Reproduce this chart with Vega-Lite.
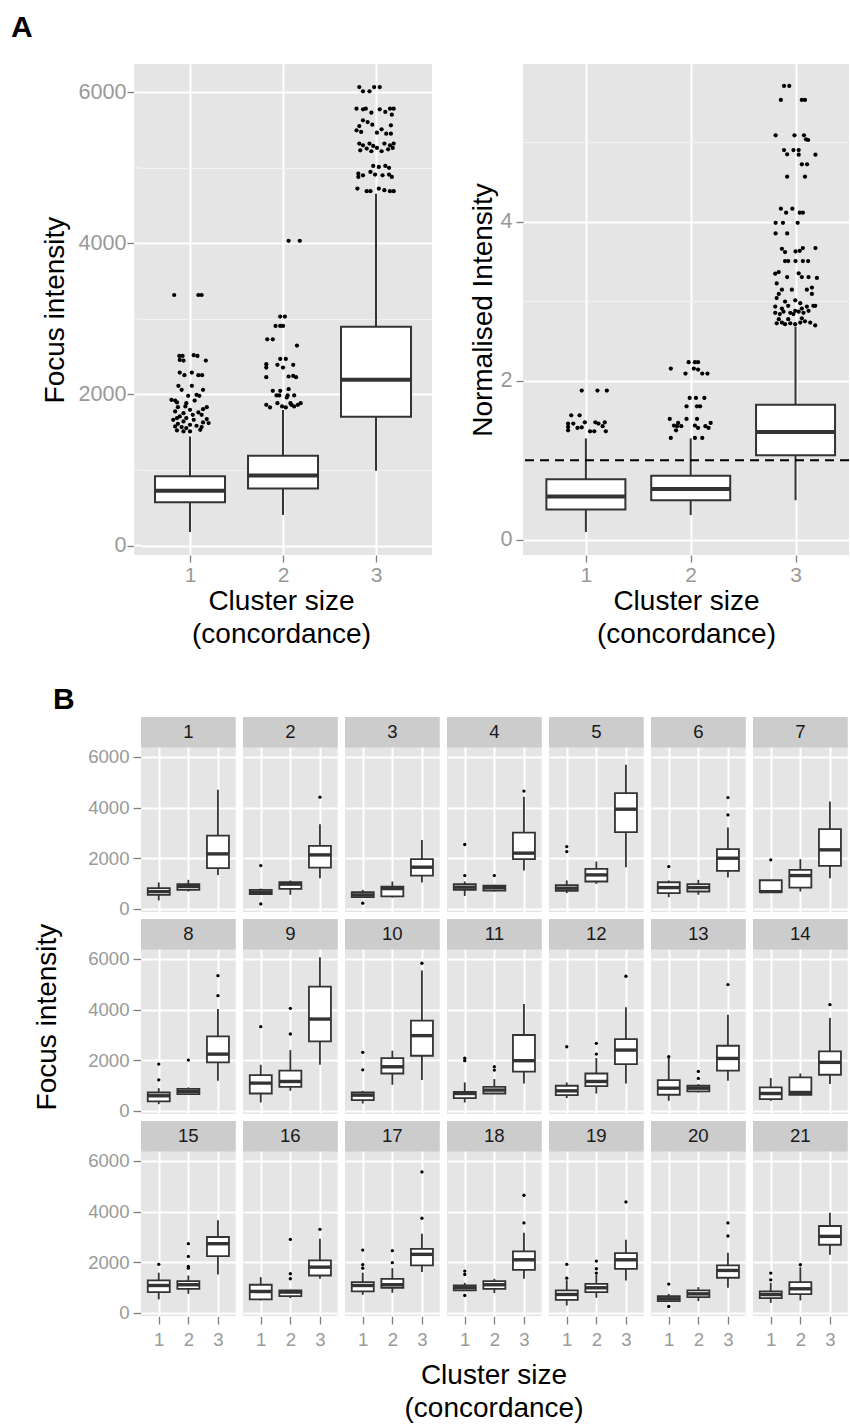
{
"$schema": "https://vega.github.io/schema/vega-lite/v6.json",
"padding": {"left": 10, "top": 13, "right": 0, "bottom": 0},
"title": {"text": "A", "anchor": "start", "fontSize": 30, "fontWeight": "bold", "color": "black", "dx": -23, "offset": 21},
"config": {
  "font": "Liberation Sans",
  "view": {"fill": "#E5E5E5", "stroke": null},
  "scale": {"continuousPadding": 0},
  "axis": {"domain": false, "labelColor": "#999999", "tickColor": "#7F7F7F", "titleColor": "black", "titleFontWeight": "normal", "titleFontSize": 28, "gridColor": "white", "gridWidth": 2, "tickWidth": 1.3, "labelFlush": false, "labelOverlap": false}
},
"datasets": {
  "aLB": [
    {"cl":1,"lo":180,"q1":572,"md":727,"q3":917,"hi":1444},
    {"cl":2,"lo":405,"q1":755,"md":928,"q3":1189,"hi":1795},
    {"cl":3,"lo":989,"q1":1706,"md":2195,"q3":2896,"hi":4658}
  ],
  "aLP": [
    {"x":0.83,"v":3317},{"x":1.09,"v":3317},{"x":1.125,"v":3317},{"x":0.885,"v":2511},{"x":0.92,"v":2511},{"x":0.89,"v":2458},{"x":0.93,"v":2449},{"x":1.04,"v":2520},{"x":1.08,"v":2511},{"x":1.17,"v":2449},
    {"x":0.89,"v":2290},{"x":0.94,"v":2255},{"x":1.02,"v":2290},{"x":1.09,"v":2255},{"x":1.13,"v":2255},{"x":0.875,"v":2114},{"x":0.91,"v":2061},{"x":1.02,"v":2114},{"x":1.14,"v":2061},{"x":0.98,"v":1982},
    {"x":1.07,"v":1995},{"x":1.10,"v":1982},{"x":0.80,"v":1929},{"x":0.84,"v":1920},{"x":0.86,"v":1894},{"x":1.05,"v":1920},{"x":0.96,"v":1885},{"x":1.18,"v":1832},{"x":1.14,"v":1806},{"x":0.95,"v":1841},
    {"x":0.87,"v":1832},{"x":1.0,"v":1797},{"x":0.84,"v":1775},{"x":1.09,"v":1762},{"x":0.93,"v":1753},{"x":1.03,"v":1731},{"x":1.125,"v":1731},{"x":0.89,"v":1709},{"x":0.86,"v":1687},{"x":0.96,"v":1687},
    {"x":1.18,"v":1674},{"x":0.82,"v":1665},{"x":1.04,"v":1665},{"x":0.93,"v":1643},{"x":1.14,"v":1630},{"x":1.20,"v":1621},{"x":0.87,"v":1612},{"x":1.0,"v":1599},{"x":1.07,"v":1586},{"x":0.84,"v":1577},
    {"x":0.91,"v":1568},{"x":1.125,"v":1568},{"x":0.96,"v":1555},{"x":0.86,"v":1524},{"x":0.93,"v":1511},{"x":1.0,"v":1511},{"x":1.11,"v":1533},
    {"x":2.06,"v":4035},{"x":2.18,"v":4035},{"x":1.97,"v":3031},{"x":2.02,"v":3031},{"x":1.92,"v":2907},{"x":1.97,"v":2907},{"x":2.0,"v":2907},{"x":1.83,"v":2731},{"x":1.89,"v":2731},{"x":2.15,"v":2647},
    {"x":1.97,"v":2471},{"x":2.03,"v":2471},{"x":1.82,"v":2401},{"x":1.82,"v":2357},{"x":1.94,"v":2392},{"x":2.0,"v":2357},{"x":2.11,"v":2392},{"x":1.82,"v":2229},{"x":2.06,"v":2238},{"x":2.11,"v":2246},
    {"x":2.14,"v":2229},{"x":1.89,"v":2048},{"x":1.97,"v":2048},{"x":2.06,"v":2070},{"x":1.93,"v":1987},{"x":1.96,"v":1987},{"x":2.04,"v":1960},{"x":2.12,"v":1987},{"x":1.82,"v":1863},{"x":1.86,"v":1828},
    {"x":1.94,"v":1885},{"x":1.99,"v":1841},{"x":2.03,"v":1828},{"x":2.09,"v":1863},{"x":2.12,"v":1841},{"x":2.16,"v":1863},{"x":2.19,"v":1885},{"x":2.08,"v":1885},{"x":2.05,"v":1987},
    {"x":2.82,"v":6070},{"x":2.86,"v":6013},{"x":2.93,"v":6013},{"x":2.98,"v":6070},{"x":3.04,"v":6070},{"x":2.79,"v":5784},{"x":2.86,"v":5775},{"x":2.89,"v":5784},{"x":2.95,"v":5731},{"x":3.04,"v":5775},
    {"x":3.10,"v":5740},{"x":3.15,"v":5784},{"x":3.19,"v":5784},{"x":3.17,"v":5704},{"x":2.86,"v":5629},{"x":2.91,"v":5607},{"x":2.96,"v":5572},{"x":2.82,"v":5554},{"x":2.79,"v":5497},{"x":2.84,"v":5475},
    {"x":3.01,"v":5466},{"x":3.06,"v":5510},{"x":3.11,"v":5453},{"x":3.16,"v":5563},{"x":3.16,"v":5453},{"x":2.82,"v":5321},{"x":2.86,"v":5299},{"x":2.93,"v":5321},{"x":2.97,"v":5290},{"x":3.01,"v":5264},
    {"x":3.09,"v":5321},{"x":3.15,"v":5299},{"x":3.19,"v":5321},{"x":2.83,"v":5233},{"x":2.90,"v":5255},{"x":2.95,"v":5220},{"x":3.06,"v":5220},{"x":3.13,"v":5246},{"x":3.18,"v":5264},{"x":2.97,"v":5026},
    {"x":3.03,"v":5013},{"x":3.10,"v":5026},{"x":3.14,"v":5000},{"x":2.81,"v":4924},{"x":2.86,"v":4902},{"x":2.94,"v":4946},{"x":2.99,"v":4911},{"x":3.07,"v":4902},{"x":3.14,"v":4911},{"x":3.17,"v":4880},
    {"x":2.81,"v":4880},{"x":2.80,"v":4726},{"x":2.90,"v":4691},{"x":2.94,"v":4691},{"x":3.03,"v":4726},{"x":3.09,"v":4704},{"x":3.15,"v":4691},{"x":3.19,"v":4691}
  ],
  "aRB": [
    {"cl":1,"lo":0.10,"q1":0.381,"md":0.546,"q3":0.762,"hi":1.275},
    {"cl":2,"lo":0.312,"q1":0.498,"md":0.640,"q3":0.805,"hi":1.275},
    {"cl":3,"lo":0.498,"q1":1.064,"md":1.355,"q3":1.699,"hi":2.68}
  ],
  "aRP": [
    {"x":0.96,"v":1.876},{"x":1.11,"v":1.876},{"x":1.20,"v":1.876},{"x":0.86,"v":1.566},{"x":0.94,"v":1.566},{"x":0.83,"v":1.461},{"x":0.88,"v":1.461},{"x":0.99,"v":1.478},{"x":1.09,"v":1.478},{"x":1.18,"v":1.478},
    {"x":0.83,"v":1.377},{"x":0.92,"v":1.407},{"x":0.96,"v":1.415},{"x":1.04,"v":1.365},{"x":1.08,"v":1.365},{"x":1.12,"v":1.461},{"x":1.19,"v":1.365},{"x":0.83,"v":1.42},{"x":1.16,"v":1.428},
    {"x":1.81,"v":2.153},{"x":1.95,"v":2.090},{"x":1.98,"v":2.233},{"x":2.04,"v":2.233},{"x":2.07,"v":2.233},{"x":2.03,"v":2.153},{"x":2.07,"v":2.140},{"x":2.11,"v":2.090},{"x":2.16,"v":2.090},{"x":1.99,"v":1.784},
    {"x":2.05,"v":1.784},{"x":2.13,"v":1.784},{"x":1.96,"v":1.679},{"x":2.06,"v":1.679},{"x":2.09,"v":1.679},{"x":1.80,"v":1.520},{"x":1.84,"v":1.436},{"x":1.87,"v":1.428},{"x":1.88,"v":1.470},{"x":1.91,"v":1.428},
    {"x":1.96,"v":1.520},{"x":1.86,"v":1.377},{"x":2.04,"v":1.436},{"x":2.06,"v":1.520},{"x":2.07,"v":1.407},{"x":2.14,"v":1.428},{"x":2.19,"v":1.470},{"x":2.17,"v":1.407},{"x":1.81,"v":1.281},{"x":2.04,"v":1.281},{"x":2.11,"v":1.281},
    {"x":2.89,"v":5.705},{"x":2.94,"v":5.705},{"x":2.86,"v":5.528},{"x":3.06,"v":5.528},{"x":3.09,"v":5.528},{"x":2.81,"v":5.084},{"x":2.99,"v":5.084},{"x":3.08,"v":5.084},{"x":3.10,"v":5.034},{"x":3.12,"v":5.025},
    {"x":2.89,"v":4.899},{"x":2.92,"v":4.845},{"x":2.98,"v":4.899},{"x":3.03,"v":4.899},{"x":3.03,"v":4.841},{"x":3.19,"v":4.841},{"x":3.06,"v":4.719},{"x":3.11,"v":4.719},{"x":2.92,"v":4.564},{"x":3.09,"v":4.564},
    {"x":2.86,"v":4.162},{"x":2.91,"v":4.111},{"x":2.97,"v":4.162},{"x":3.04,"v":4.111},{"x":3.07,"v":4.111},{"x":2.81,"v":3.985},{"x":2.88,"v":3.985},{"x":3.02,"v":3.985},{"x":2.81,"v":3.851},{"x":2.92,"v":3.851},
    {"x":2.87,"v":3.658},{"x":2.90,"v":3.617},{"x":3.0,"v":3.625},{"x":3.04,"v":3.633},{"x":3.07,"v":3.667},{"x":3.19,"v":3.667},{"x":2.90,"v":3.503},{"x":2.93,"v":3.503},{"x":3.0,"v":3.503},{"x":3.07,"v":3.503},{"x":3.12,"v":3.503},
    {"x":2.806,"v":3.345},{"x":2.84,"v":3.366},{"x":2.92,"v":3.302},{"x":3.03,"v":3.35},{"x":3.06,"v":3.302},{"x":3.124,"v":3.302},{"x":3.204,"v":3.292},{"x":2.82,"v":3.223},{"x":2.87,"v":3.144},{"x":2.965,"v":3.144},
    {"x":3.108,"v":3.144},{"x":3.156,"v":3.170},{"x":2.84,"v":3.091},{"x":2.82,"v":3.038},{"x":2.90,"v":2.995},{"x":2.997,"v":3.011},{"x":3.045,"v":2.975},{"x":3.156,"v":3.091},{"x":3.188,"v":2.942},{"x":2.806,"v":2.932},
    {"x":2.87,"v":2.906},{"x":2.93,"v":2.942},{"x":2.997,"v":2.879},{"x":3.06,"v":2.906},{"x":3.108,"v":2.932},{"x":3.17,"v":2.942},{"x":2.806,"v":2.853},{"x":2.85,"v":2.837},{"x":2.885,"v":2.868},{"x":2.95,"v":2.853},
    {"x":2.98,"v":2.837},{"x":3.03,"v":2.868},{"x":3.076,"v":2.853},{"x":3.124,"v":2.879},{"x":2.82,"v":2.721},{"x":2.87,"v":2.731},{"x":2.90,"v":2.710},{"x":2.95,"v":2.721},{"x":2.997,"v":2.710},{"x":3.045,"v":2.731},
    {"x":3.09,"v":2.747},{"x":3.14,"v":2.731},{"x":3.188,"v":2.694},{"x":2.84,"v":2.773},{"x":2.93,"v":2.773},{"x":3.06,"v":2.784}
  ],
  "bD": [
    {"p":1,"r":1,"c":1,"cl":1,"lo":330,"q1":550,"md":680,"q3":815,"hi":1040},
    {"p":1,"r":1,"c":1,"cl":2,"lo":685,"q1":750,"md":880,"q3":975,"hi":1145},
    {"p":1,"r":1,"c":1,"cl":3,"lo":1340,"q1":1605,"md":2170,"q3":2895,"hi":4700},
    {"p":2,"r":1,"c":2,"cl":1,"lo":560,"q1":580,"md":655,"q3":750,"hi":800},
    {"p":2,"r":1,"c":2,"cl":2,"lo":555,"q1":790,"md":975,"q3":1050,"hi":1120},
    {"p":2,"r":1,"c":2,"cl":3,"lo":1210,"q1":1630,"md":2130,"q3":2490,"hi":3340},
    {"p":3,"r":1,"c":3,"cl":1,"lo":450,"q1":460,"md":550,"q3":660,"hi":750},
    {"p":3,"r":1,"c":3,"cl":2,"lo":445,"q1":490,"md":800,"q3":880,"hi":1080},
    {"p":3,"r":1,"c":3,"cl":3,"lo":1040,"q1":1315,"md":1645,"q3":1960,"hi":2720},
    {"p":4,"r":1,"c":4,"cl":1,"lo":510,"q1":750,"md":855,"q3":975,"hi":1080},
    {"p":4,"r":1,"c":4,"cl":2,"lo":685,"q1":725,"md":840,"q3":920,"hi":950},
    {"p":4,"r":1,"c":4,"cl":3,"lo":1510,"q1":1960,"md":2200,"q3":3010,"hi":4430},
    {"p":5,"r":1,"c":5,"cl":1,"lo":620,"q1":710,"md":815,"q3":935,"hi":1120},
    {"p":5,"r":1,"c":5,"cl":2,"lo":985,"q1":1080,"md":1340,"q3":1580,"hi":1870},
    {"p":5,"r":1,"c":5,"cl":3,"lo":1645,"q1":3030,"md":3935,"q3":4570,"hi":5690},
    {"p":6,"r":1,"c":6,"cl":1,"lo":460,"q1":620,"md":840,"q3":1050,"hi":1120},
    {"p":6,"r":1,"c":6,"cl":2,"lo":555,"q1":685,"md":840,"q3":975,"hi":1145},
    {"p":6,"r":1,"c":6,"cl":3,"lo":1235,"q1":1500,"md":2000,"q3":2355,"hi":3210},
    {"p":7,"r":1,"c":7,"cl":1,"lo":660,"q1":660,"md":680,"q3":1130,"hi":1130},
    {"p":7,"r":1,"c":7,"cl":2,"lo":685,"q1":840,"md":1315,"q3":1540,"hi":1960},
    {"p":7,"r":1,"c":7,"cl":3,"lo":1210,"q1":1700,"md":2330,"q3":3145,"hi":4240},
    {"p":8,"r":2,"c":1,"cl":1,"lo":265,"q1":370,"md":595,"q3":725,"hi":895},
    {"p":8,"r":2,"c":1,"cl":2,"lo":635,"q1":660,"md":765,"q3":870,"hi":925},
    {"p":8,"r":2,"c":1,"cl":3,"lo":1185,"q1":1915,"md":2240,"q3":2940,"hi":4020},
    {"p":9,"r":2,"c":2,"cl":1,"lo":330,"q1":685,"md":1095,"q3":1410,"hi":1820},
    {"p":9,"r":2,"c":2,"cl":2,"lo":790,"q1":950,"md":1160,"q3":1585,"hi":2400},
    {"p":9,"r":2,"c":2,"cl":3,"lo":1820,"q1":2745,"md":3625,"q3":4905,"hi":6070},
    {"p":10,"r":2,"c":3,"cl":1,"lo":290,"q1":420,"md":620,"q3":725,"hi":790},
    {"p":10,"r":2,"c":3,"cl":2,"lo":1030,"q1":1475,"md":1740,"q3":2085,"hi":2375},
    {"p":10,"r":2,"c":3,"cl":3,"lo":1215,"q1":2175,"md":2970,"q3":3560,"hi":5540},
    {"p":11,"r":2,"c":4,"cl":1,"lo":330,"q1":500,"md":685,"q3":750,"hi":1120},
    {"p":11,"r":2,"c":4,"cl":2,"lo":660,"q1":685,"md":820,"q3":950,"hi":1255},
    {"p":11,"r":2,"c":4,"cl":3,"lo":1080,"q1":1545,"md":1980,"q3":2995,"hi":4220},
    {"p":12,"r":2,"c":5,"cl":1,"lo":500,"q1":620,"md":790,"q3":990,"hi":1120},
    {"p":12,"r":2,"c":5,"cl":2,"lo":685,"q1":975,"md":1160,"q3":1475,"hi":2085},
    {"p":12,"r":2,"c":5,"cl":3,"lo":1080,"q1":1845,"md":2400,"q3":2835,"hi":4090},
    {"p":13,"r":2,"c":6,"cl":1,"lo":395,"q1":635,"md":895,"q3":1215,"hi":2100},
    {"p":13,"r":2,"c":6,"cl":2,"lo":725,"q1":765,"md":895,"q3":990,"hi":1055},
    {"p":13,"r":2,"c":6,"cl":3,"lo":1185,"q1":1585,"md":2070,"q3":2570,"hi":3800},
    {"p":14,"r":2,"c":7,"cl":1,"lo":395,"q1":460,"md":685,"q3":925,"hi":1295},
    {"p":14,"r":2,"c":7,"cl":2,"lo":630,"q1":635,"md":725,"q3":1320,"hi":1475},
    {"p":14,"r":2,"c":7,"cl":3,"lo":1055,"q1":1425,"md":1915,"q3":2350,"hi":3665},
    {"p":15,"r":3,"c":1,"cl":1,"lo":530,"q1":820,"md":1080,"q3":1280,"hi":1585},
    {"p":15,"r":3,"c":1,"cl":2,"lo":750,"q1":950,"md":1110,"q3":1255,"hi":1475},
    {"p":15,"r":3,"c":1,"cl":3,"lo":1515,"q1":2240,"md":2730,"q3":2995,"hi":3655},
    {"p":16,"r":3,"c":2,"cl":1,"lo":490,"q1":530,"md":845,"q3":1110,"hi":1410},
    {"p":16,"r":3,"c":2,"cl":2,"lo":580,"q1":660,"md":820,"q3":885,"hi":910},
    {"p":16,"r":3,"c":2,"cl":3,"lo":1345,"q1":1475,"md":1805,"q3":2070,"hi":2930},
    {"p":17,"r":3,"c":3,"cl":1,"lo":710,"q1":845,"md":1080,"q3":1215,"hi":1585},
    {"p":17,"r":3,"c":3,"cl":2,"lo":790,"q1":990,"md":1110,"q3":1345,"hi":1765},
    {"p":17,"r":3,"c":3,"cl":3,"lo":1610,"q1":1875,"md":2310,"q3":2530,"hi":3125},
    {"p":18,"r":3,"c":4,"cl":1,"lo":884,"q1":884,"md":990,"q3":1080,"hi":1185},
    {"p":18,"r":3,"c":4,"cl":2,"lo":780,"q1":950,"md":1110,"q3":1255,"hi":1345},
    {"p":18,"r":3,"c":4,"cl":3,"lo":1345,"q1":1700,"md":2095,"q3":2425,"hi":3165},
    {"p":19,"r":3,"c":5,"cl":1,"lo":290,"q1":515,"md":725,"q3":885,"hi":1290},
    {"p":19,"r":3,"c":5,"cl":2,"lo":595,"q1":820,"md":990,"q3":1145,"hi":1505},
    {"p":19,"r":3,"c":5,"cl":3,"lo":1280,"q1":1740,"md":2095,"q3":2360,"hi":2890},
    {"p":20,"r":3,"c":6,"cl":1,"lo":460,"q1":460,"md":555,"q3":660,"hi":750},
    {"p":20,"r":3,"c":6,"cl":2,"lo":460,"q1":620,"md":750,"q3":885,"hi":1015},
    {"p":20,"r":3,"c":6,"cl":3,"lo":990,"q1":1385,"md":1675,"q3":1875,"hi":2375},
    {"p":21,"r":3,"c":7,"cl":1,"lo":395,"q1":580,"md":725,"q3":845,"hi":1185},
    {"p":21,"r":3,"c":7,"cl":2,"lo":490,"q1":740,"md":950,"q3":1215,"hi":1800},
    {"p":21,"r":3,"c":7,"cl":3,"lo":2295,"q1":2690,"md":3020,"q3":3430,"hi":3955},
    {"p":2,"r":1,"c":2,"cl":1,"v":1710},{"p":2,"r":1,"c":2,"cl":1,"v":195},{"p":2,"r":1,"c":2,"cl":3,"v":4410},
    {"p":3,"r":1,"c":3,"cl":1,"v":225},
    {"p":4,"r":1,"c":4,"cl":1,"v":1315},{"p":4,"r":1,"c":4,"cl":1,"v":2540},{"p":4,"r":1,"c":4,"cl":2,"v":1315},{"p":4,"r":1,"c":4,"cl":3,"v":4650},
    {"p":5,"r":1,"c":5,"cl":1,"v":2260},{"p":5,"r":1,"c":5,"cl":1,"v":2460},
    {"p":6,"r":1,"c":6,"cl":1,"v":1670},{"p":6,"r":1,"c":6,"cl":3,"v":3710},{"p":6,"r":1,"c":6,"cl":3,"v":4395},
    {"p":7,"r":1,"c":7,"cl":1,"v":1935},
    {"p":8,"r":2,"c":1,"cl":1,"v":1225},{"p":8,"r":2,"c":1,"cl":1,"v":1845},{"p":8,"r":2,"c":1,"cl":2,"v":2005},{"p":8,"r":2,"c":1,"cl":3,"v":4550},{"p":8,"r":2,"c":1,"cl":3,"v":5340},
    {"p":9,"r":2,"c":2,"cl":1,"v":3325},{"p":9,"r":2,"c":2,"cl":2,"v":3035},{"p":9,"r":2,"c":2,"cl":2,"v":4050},
    {"p":10,"r":2,"c":3,"cl":1,"v":1620},{"p":10,"r":2,"c":3,"cl":1,"v":2310},{"p":10,"r":2,"c":3,"cl":3,"v":5830},
    {"p":11,"r":2,"c":4,"cl":1,"v":1980},{"p":11,"r":2,"c":4,"cl":1,"v":2080},{"p":11,"r":2,"c":4,"cl":2,"v":1610},{"p":11,"r":2,"c":4,"cl":2,"v":1740},
    {"p":12,"r":2,"c":5,"cl":1,"v":2530},{"p":12,"r":2,"c":5,"cl":2,"v":2240},{"p":12,"r":2,"c":5,"cl":2,"v":2665},{"p":12,"r":2,"c":5,"cl":3,"v":5315},
    {"p":13,"r":2,"c":6,"cl":1,"v":2140},{"p":13,"r":2,"c":6,"cl":2,"v":1280},{"p":13,"r":2,"c":6,"cl":2,"v":1555},{"p":13,"r":2,"c":6,"cl":3,"v":4985},
    {"p":14,"r":2,"c":7,"cl":3,"v":4195},
    {"p":15,"r":3,"c":1,"cl":1,"v":1915},{"p":15,"r":3,"c":1,"cl":2,"v":1765},{"p":15,"r":3,"c":1,"cl":2,"v":1835},{"p":15,"r":3,"c":1,"cl":2,"v":2230},{"p":15,"r":3,"c":1,"cl":2,"v":2730},
    {"p":16,"r":3,"c":2,"cl":2,"v":1345},{"p":16,"r":3,"c":2,"cl":2,"v":1545},{"p":16,"r":3,"c":2,"cl":2,"v":2900},{"p":16,"r":3,"c":2,"cl":3,"v":3300},
    {"p":17,"r":3,"c":3,"cl":1,"v":1765},{"p":17,"r":3,"c":3,"cl":1,"v":1900},{"p":17,"r":3,"c":3,"cl":1,"v":2480},{"p":17,"r":3,"c":3,"cl":2,"v":1980},{"p":17,"r":3,"c":3,"cl":2,"v":2455},{"p":17,"r":3,"c":3,"cl":3,"v":3735},{"p":17,"r":3,"c":3,"cl":3,"v":5565},
    {"p":18,"r":3,"c":4,"cl":1,"v":685},{"p":18,"r":3,"c":4,"cl":1,"v":1515},{"p":18,"r":3,"c":4,"cl":1,"v":1650},{"p":18,"r":3,"c":4,"cl":3,"v":3550},{"p":18,"r":3,"c":4,"cl":3,"v":4645},
    {"p":19,"r":3,"c":5,"cl":1,"v":1370},{"p":19,"r":3,"c":5,"cl":1,"v":1915},{"p":19,"r":3,"c":5,"cl":2,"v":1570},{"p":19,"r":3,"c":5,"cl":2,"v":1740},{"p":19,"r":3,"c":5,"cl":2,"v":2045},{"p":19,"r":3,"c":5,"cl":3,"v":4380},
    {"p":20,"r":3,"c":6,"cl":1,"v":250},{"p":20,"r":3,"c":6,"cl":1,"v":1135},{"p":20,"r":3,"c":6,"cl":3,"v":3035},{"p":20,"r":3,"c":6,"cl":3,"v":3550},
    {"p":21,"r":3,"c":7,"cl":1,"v":1305},{"p":21,"r":3,"c":7,"cl":1,"v":1570},{"p":21,"r":3,"c":7,"cl":2,"v":1900}
  ]
},
"columns": 1,
"align": "none",
"spacing": 37,
"concat": [
  {
    "spacing": 37,
    "hconcat": [
      {
        "width": 291, "height": 491,
        "layer": [
          {"data": {"name": "aLB"}, "mark": {"type": "rule", "color": "#333333", "strokeWidth": 2},
           "encoding": {
             "x": {"field": "cl", "type": "quantitative", "title": ["Cluster size", "(concordance)"], "scale": {"domain": [0.473, 3.602], "nice": false, "zero": false, "padding": 0},
                   "axis": {"values": [1, 2, 3], "format": "d", "labelFontSize": 21, "tickSize": 7, "labelPadding": 2, "titlePadding": 2, "titleLineHeight": 33, "titleX": 140, "grid": true}},
             "y": {"field": "lo", "type": "quantitative", "title": "Focus intensity", "scale": {"domain": [-125, 6375], "nice": false, "zero": false, "padding": 0},
                   "axis": {"values": [0, 1000, 2000, 3000, 4000, 5000, 6000], "format": "d", "offset": 7, "labelExpr": "datum.value % 2000 === 0 ? datum.label : ''", "labelFontSize": 21.6, "tickSize": 7, "labelPadding": 1, "titlePadding": 8,
                            "tickOpacity": {"condition": {"test": "datum.value % 2000 !== 0", "value": 0}, "value": 1},
                            "gridColor": {"condition": {"test": "datum.value % 2000 === 0", "value": "white"}, "value": "#F2F2F2"},
                            "gridWidth": {"condition": {"test": "datum.value % 2000 === 0", "value": 2}, "value": 1.2}}},
             "y2": {"field": "hi"}
           }},
          {"data": {"values": [{"g": 0}]}, "mark": {"type": "rect", "color": "#E5E5E5"},
           "encoding": {"x": {"datum": 0.4, "type": "quantitative"}, "x2": {"datum": 0.473}, "y": {"datum": -125, "type": "quantitative"}, "y2": {"datum": 6375}}},
          {"data": {"values": [{"g": 1000}, {"g": 3000}, {"g": 5000}]}, "mark": {"type": "rule", "color": "#F2F2F2", "strokeWidth": 1.2},
           "encoding": {"x": {"datum": 0.4, "type": "quantitative"}, "x2": {"datum": 0.473}, "y": {"field": "g", "type": "quantitative", "title": "Focus intensity"}}},
          {"data": {"values": [{"g": 0}, {"g": 2000}, {"g": 4000}, {"g": 6000}]}, "mark": {"type": "rule", "color": "white", "strokeWidth": 2},
           "encoding": {"x": {"datum": 0.4, "type": "quantitative"}, "x2": {"datum": 0.473}, "y": {"field": "g", "type": "quantitative", "title": "Focus intensity"}}},
          {"data": {"name": "aLB"}, "mark": {"type": "bar", "size": 70, "fill": "white", "stroke": "#333333", "strokeWidth": 2},
           "encoding": {"x": {"field": "cl", "type": "quantitative", "title": ["Cluster size", "(concordance)"]}, "y": {"field": "q1", "type": "quantitative", "title": "Focus intensity"}, "y2": {"field": "q3"}}},
          {"data": {"name": "aLB"}, "mark": {"type": "tick", "orient": "horizontal", "size": 70, "thickness": 4, "color": "#333333", "opacity": 1},
           "encoding": {"x": {"field": "cl", "type": "quantitative", "title": ["Cluster size", "(concordance)"]}, "y": {"field": "md", "type": "quantitative", "title": "Focus intensity"}}},
          {"data": {"name": "aLP"}, "mark": {"type": "circle", "size": 18, "color": "black", "opacity": 1},
           "encoding": {"x": {"field": "x", "type": "quantitative", "title": ["Cluster size", "(concordance)"]}, "y": {"field": "v", "type": "quantitative", "title": "Focus intensity"}}}
        ]
      },
      {
        "width": 326, "height": 491,
        "layer": [
          {"data": {"name": "aRB"}, "mark": {"type": "rule", "color": "#333333", "strokeWidth": 2},
           "encoding": {
             "x": {"field": "cl", "type": "quantitative", "title": ["Cluster size", "(concordance)"], "scale": {"domain": [0.4, 3.51], "nice": false, "zero": false, "padding": 0},
                   "axis": {"values": [1, 2, 3], "format": "d", "labelFontSize": 21, "tickSize": 7, "labelPadding": 2, "titlePadding": 2, "titleLineHeight": 33, "grid": true}},
             "y": {"field": "lo", "type": "quantitative", "title": "Normalised Intensity", "scale": {"domain": [-0.19, 5.98], "nice": false, "zero": false, "padding": 0},
                   "axis": {"values": [0, 1, 2, 3, 4, 5], "format": "d", "labelExpr": "datum.value % 2 === 0 ? datum.label : ''", "labelFontSize": 21.6, "tickSize": 7, "labelPadding": 4, "titlePadding": 2,
                            "tickOpacity": {"condition": {"test": "datum.value % 2 !== 0", "value": 0}, "value": 1},
                            "gridColor": {"condition": {"test": "datum.value % 2 === 0", "value": "white"}, "value": "#F2F2F2"},
                            "gridWidth": {"condition": {"test": "datum.value % 2 === 0", "value": 2}, "value": 1.2}}},
             "y2": {"field": "hi"}
           }},
          {"data": {"name": "aRB"}, "mark": {"type": "bar", "size": 79, "fill": "white", "stroke": "#333333", "strokeWidth": 2},
           "encoding": {"x": {"field": "cl", "type": "quantitative", "title": ["Cluster size", "(concordance)"]}, "y": {"field": "q1", "type": "quantitative", "title": "Normalised Intensity"}, "y2": {"field": "q3"}}},
          {"data": {"name": "aRB"}, "mark": {"type": "tick", "orient": "horizontal", "size": 79, "thickness": 4, "color": "#333333", "opacity": 1},
           "encoding": {"x": {"field": "cl", "type": "quantitative", "title": ["Cluster size", "(concordance)"]}, "y": {"field": "md", "type": "quantitative", "title": "Normalised Intensity"}}},
          {"data": {"name": "aRP"}, "mark": {"type": "circle", "size": 18, "color": "black", "opacity": 1},
           "encoding": {"x": {"field": "x", "type": "quantitative", "title": ["Cluster size", "(concordance)"]}, "y": {"field": "v", "type": "quantitative", "title": "Normalised Intensity"}}},
          {"data": {"values": [{"ref": 1}]}, "mark": {"type": "rule", "color": "black", "strokeWidth": 2, "strokeDash": [9, 6]},
           "encoding": {"y": {"field": "ref", "type": "quantitative", "title": "Normalised Intensity"}}}
        ]
      }
    ]
  },
  {
    "data": {"name": "bD"},
    "title": {"text": "B", "anchor": "start", "fontSize": 30, "fontWeight": "bold", "color": "black", "dx": 19, "offset": 2},
    "facet": {
      "row": {"field": "r", "type": "ordinal", "header": {"labels": false, "title": "Focus intensity", "titleFontSize": 28, "titleFontWeight": "normal", "titleColor": "black", "titlePadding": 15}},
      "column": {"field": "c", "type": "ordinal", "header": {"labels": false, "title": ["Cluster size", "(concordance)"], "orient": "bottom", "titleFontSize": 28, "titleFontWeight": "normal", "titleColor": "black", "titlePadding": 3, "titleLineHeight": 33}}
    },
    "spacing": {"row": 7, "column": 7},
    "spec": {
      "width": 94.7, "height": 195,
      "layer": [
        {"transform": [{"filter": "isValid(datum.md)"}], "mark": {"type": "rule", "color": "#333333", "strokeWidth": 1.8},
         "encoding": {
           "x": {"field": "cl", "type": "quantitative", "title": null, "scale": {"domain": [0.4, 3.6], "nice": false, "zero": false, "padding": 0},
                 "axis": {"title": null, "values": [1, 2, 3], "format": "d", "labelFontSize": 18.6, "tickSize": 8, "labelPadding": 6, "grid": true}},
           "y": {"field": "lo", "type": "quantitative", "title": null, "scale": {"domain": [-125, 7577], "nice": false, "zero": false, "padding": 0},
                 "axis": {"title": null, "values": [0, 1000, 2000, 3000, 4000, 5000, 6000], "format": "d", "labelExpr": "datum.value % 2000 === 0 ? datum.label : ''", "labelFontSize": 18.6, "tickSize": 8, "labelPadding": 4,
                          "tickOpacity": {"condition": {"test": "datum.value % 2000 !== 0", "value": 0}, "value": 1},
                          "gridColor": {"condition": {"test": "datum.value % 2000 === 0", "value": "white"}, "value": "#F2F2F2"},
                          "gridWidth": {"condition": {"test": "datum.value % 2000 === 0", "value": 2}, "value": 1.2}}},
           "y2": {"field": "hi"}
         }},
        {"transform": [{"filter": "isValid(datum.md) && datum.cl === 2"}], "mark": {"type": "rect", "color": "#CCCCCC"},
         "encoding": {"x": {"datum": 0.4, "type": "quantitative", "title": null}, "x2": {"datum": 3.6}, "y": {"datum": 6375, "type": "quantitative", "title": null}, "y2": {"datum": 7577}}},
        {"transform": [{"filter": "isValid(datum.md) && datum.cl === 2"}], "mark": {"type": "text", "fontSize": 18.6, "color": "#1A1A1A"},
         "encoding": {"x": {"datum": 2, "type": "quantitative", "title": null}, "y": {"datum": 6976, "type": "quantitative", "title": null}, "text": {"field": "p", "type": "nominal"}}},
        {"transform": [{"filter": "isValid(datum.md)"}], "mark": {"type": "bar", "size": 22, "fill": "white", "stroke": "#333333", "strokeWidth": 1.8},
         "encoding": {"x": {"field": "cl", "type": "quantitative", "title": null}, "y": {"field": "q1", "type": "quantitative", "title": null}, "y2": {"field": "q3"}}},
        {"transform": [{"filter": "isValid(datum.md)"}], "mark": {"type": "tick", "orient": "horizontal", "size": 22, "thickness": 3.4, "color": "#333333", "opacity": 1},
         "encoding": {"x": {"field": "cl", "type": "quantitative", "title": null}, "y": {"field": "md", "type": "quantitative", "title": null}}},
        {"transform": [{"filter": "isValid(datum.v)"}], "mark": {"type": "circle", "size": 11, "color": "black", "opacity": 1},
         "encoding": {"x": {"field": "cl", "type": "quantitative", "title": null}, "y": {"field": "v", "type": "quantitative", "title": null}}}
      ]
    }
  }
]
}
